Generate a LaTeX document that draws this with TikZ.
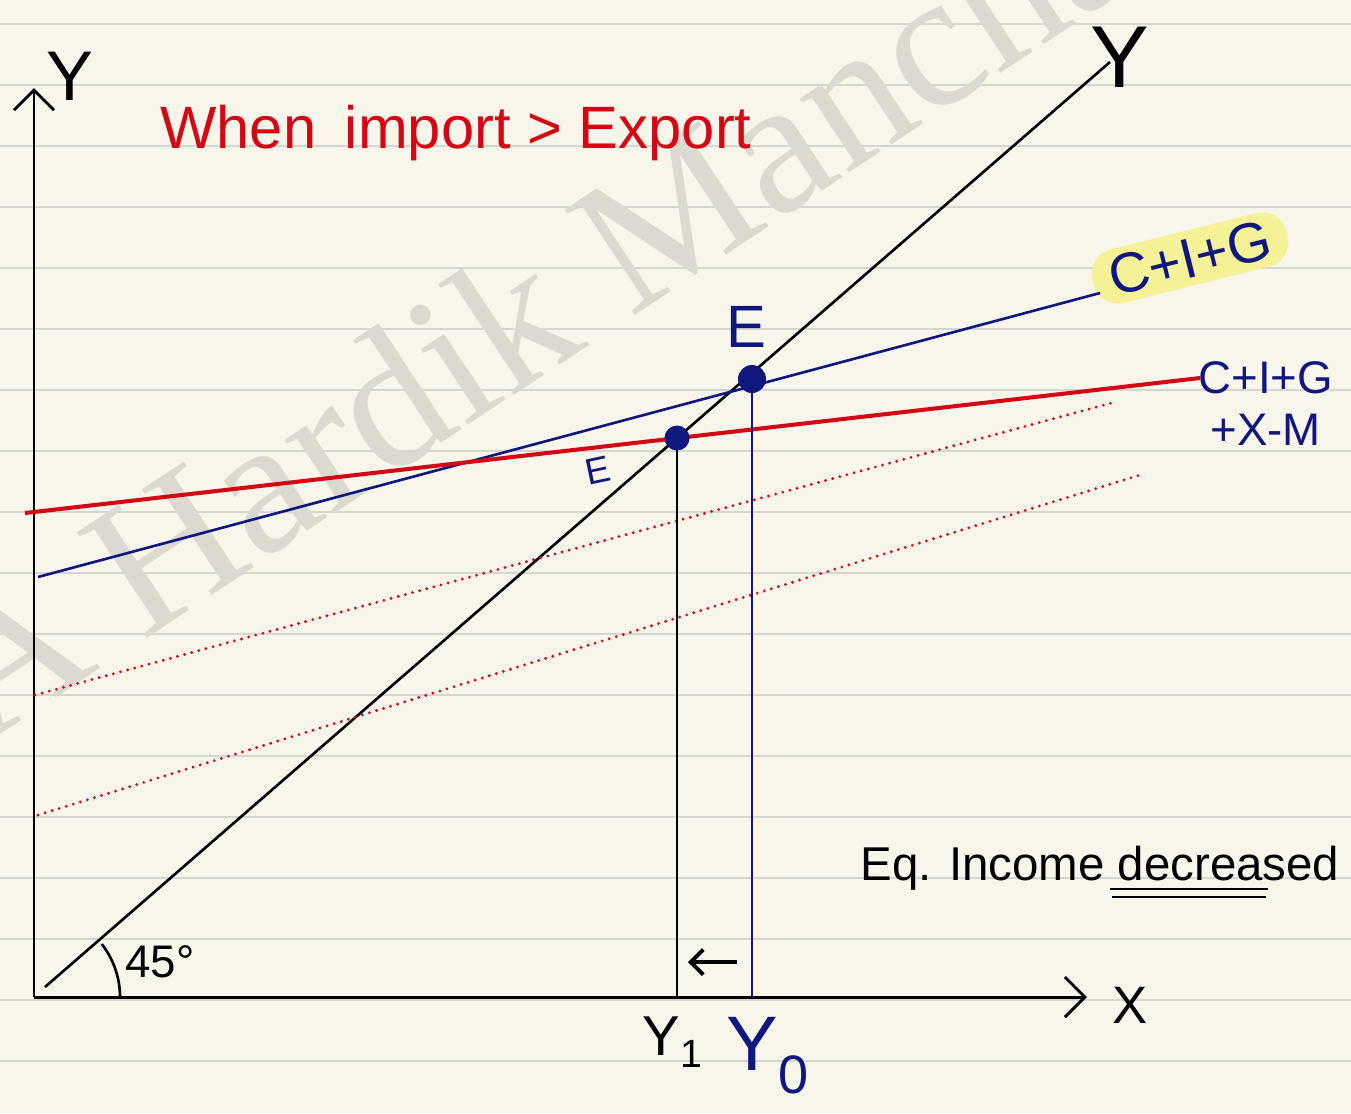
\documentclass[tikz,border=0pt]{standalone}
\usepackage{fontspec}
\setmainfont{Liberation Sans}
\newfontfamily\wmfont{Liberation Serif}
\usetikzlibrary{arrows.meta, positioning}
\definecolor{paper}{RGB}{248,246,235}
\definecolor{ruled}{RGB}{214,214,208}
\definecolor{inkblue}{RGB}{16,24,128}
\definecolor{inkred}{RGB}{212,8,20}
\definecolor{marker}{RGB}{244,241,150}
\definecolor{wmark}{RGB}{220,218,208}

\begin{document}
\begin{tikzpicture}[x=0.02cm, y=-0.02cm,
   axis/.style={line width=1.7pt, -{Straight Barb[length=4mm, width=8mm]}},
   ruledline/.style={ruled, line width=1pt},
   thinline/.style={line width=1.5pt},
   redline/.style={inkred, line width=2.3pt},
   dotline/.style={inkred, line width=1.8pt, line cap=round, dash pattern=on 0pt off 4.2pt},
   dot/.style={circle, fill=inkblue, inner sep=0pt},
   lbl/.style={inner sep=0pt},
   hilite/.style={fill=marker, rounded corners=0.5cm, text=inkblue, inner sep=0pt,
                  minimum width=4cm, minimum height=1.1cm, font=\fontsize{32}{32}\selectfont},
   shiftarr/.style={line width=2.2pt, -{Straight Barb[length=2.5mm, width=5mm]}}]

 % paper
 \fill[paper] (0,0) rectangle (1351,1113);
 \useasboundingbox (0,0) rectangle (1351,1113);
 \clip (0,0) rectangle (1351,1113);
 \foreach \k in {0,...,17}
   \draw[ruledline] (0,{24+61*\k}) -- (1351,{24+61*\k});
 \node[wmark, rotate=33.5, anchor=base west, inner sep=0pt,
       font=\wmfont\fontsize{110}{110}\selectfont] (wm) at (-122,816) {CA Hardik Mancha};

 % axes
 \coordinate (O) at (34,997);
 \coordinate (ytop) at (34,88);
 \coordinate (xend) at (1087,997);
 \draw[axis] (O) -- (ytop);
 \draw[axis] (O) -- (xend);
 \node[lbl, font=\fontsize{40}{40}\selectfont] (ylab) at (70,76) {Y};
 \node[lbl, font=\fontsize{30}{30}\selectfont] (xlab) at (1130,1005) {X};

 % 45 degree line
 \coordinate (d0) at (45,987);
 \coordinate (d1) at (1110,62);
 \draw[thinline] (d0) -- (d1);
 \node[lbl, font=\fontsize{50}{50}\selectfont] (ylab2) at (1120,57) {Y};
 \draw[line width=1.5pt] (O) ++(86,0) arc[start angle=0, end angle=-38, radius=86];
 \node[lbl, font=\fontsize{26}{26}\selectfont] (deg) at (160,962) {45°};

 % title
 \node[lbl, anchor=base west, inkred, font=\fontsize{34}{34}\selectfont] (title) at (160,148)
   {When\hspace{0.2em} import > Export};

 % equilibrium points
 \coordinate (E0) at (752,379);
 \coordinate (E1) at (677,438);

 % dotted lines
 \coordinate (p0) at (35,695);
 \coordinate (p1) at (1115,402);
 \coordinate (q0) at (38,815);
 \coordinate (q1) at (1140,475);
 \draw[dotline] (p0) -- (p1);
 \draw[dotline] (q0) -- (q1);

 % C+I+G
 \node[hilite, rotate=14] (cig) at (1190,258) {C+I+G};
 \coordinate (b0) at (38,577);
 \coordinate (b1) at (1100,293);
 \draw[inkblue, thinline] (b0) -- (b1);

 % C+I+G+X-M
 \node[lbl, anchor=north west, align=center, text=inkblue,
       font=\fontsize{26}{30}\selectfont] (cixm) at (1198,361) {C+I+G\\+X-M};
 \coordinate (r0) at (25,513);
 \coordinate (r1) at (1200,378);
 \draw[redline] (r0) -- (r1);

 % drop lines
 \draw[thinline] (E1) -- (E1 |- O);
 \draw[inkblue, thinline] (E0) -- (E0 |- O);
 \node[dot, minimum size=0.56cm] (eqA) at (E0) {};
 \node[dot, minimum size=0.5cm] (eqB) at (E1) {};
 \node[lbl, text=inkblue, font=\fontsize{34}{34}\selectfont] (Elab) at (746,327) {E};
 \node[lbl, text=inkblue, rotate=12, font=\fontsize{21}{21}\selectfont] (Elab2) at (598,471) {E};

 \node[lbl, font=\fontsize{32}{32}\selectfont] (y1lab) at (673,1042) {Y\textsubscript{1}};
 \node[lbl, text=inkblue, font=\fontsize{44}{44}\selectfont] (y0lab) at (768,1056) {Y\textsubscript{0}};
 \coordinate (s0) at (737,962);
 \coordinate (s1) at (688,962);
 \draw[shiftarr] (s0) -- (s1);

 % result
 \node[lbl, anchor=base west, font=\fontsize{27}{27}\selectfont] (eqinc) at (860,880) {Eq. Income decreased};
 \draw[line width=1.4pt] (1110,889) -- (1268,889);
 \draw[line width=1.4pt] (1112,897) -- (1266,897);
\end{tikzpicture}
\end{document}
